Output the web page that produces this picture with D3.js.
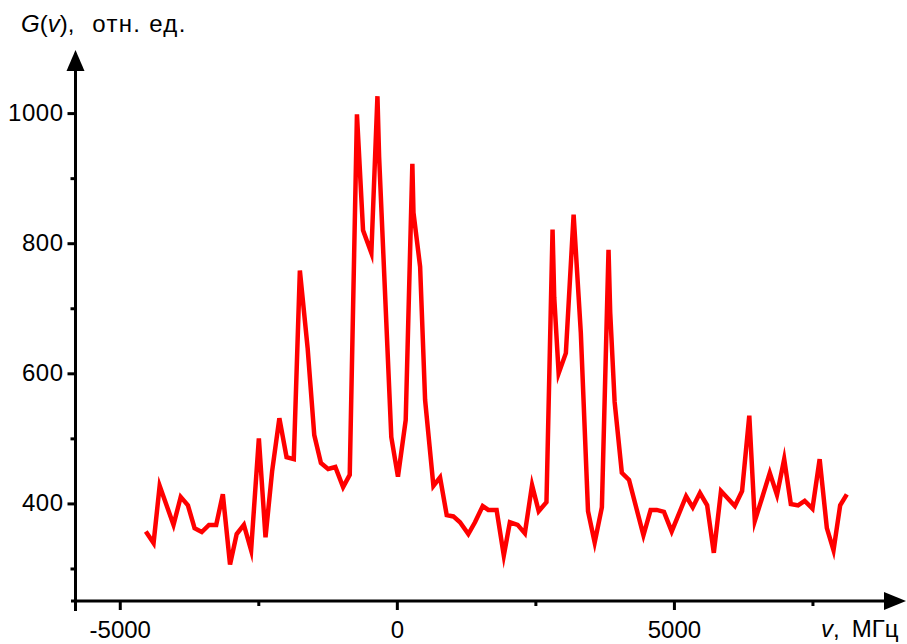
<!DOCTYPE html>
<html>
<head>
<meta charset="utf-8">
<script src="https://cdn.jsdelivr.net/npm/d3@7"></script>
<style>
  body { margin: 0; background: #fff; }
  svg { display: block; font-family: "Liberation Sans", Arial, sans-serif; }
</style>
</head>
<body>
<svg id="chart"></svg>
<script>
// frequency offset, MHz
const freq = [-4530, -4390, -4280, -4030, -3900, -3770, -3650, -3520, -3390, -3260,
  -3140, -3010, -2890, -2760, -2630, -2490, -2370, -2250, -2120, -1990,
  -1860, -1750, -1610, -1490, -1370, -1240, -1110, -970, -850, -720,
  -610, -460, -350, -320, -100, 20, 160, 280, 300, 420,
  510, 660, 780, 900, 1020, 1140, 1290, 1410, 1550, 1650,
  1800, 1930, 2040, 2180, 2310, 2440, 2560, 2700, 2810, 2840,
  2920, 3050, 3190, 3320, 3450, 3570, 3700, 3820, 3850, 3930,
  4060, 4190, 4450, 4580, 4690, 4820, 4960, 5220, 5340, 5470,
  5600, 5720, 5850, 5970, 6100, 6230, 6360, 6460, 6600, 6730,
  6860, 6990, 7110, 7240, 7360, 7500, 7630, 7760, 7880, 8000, 8120]

// G(v), arb. units
const gain = [357, 339, 427, 367, 410, 397, 362, 356, 367, 367,
  414, 306, 353, 367, 328, 500, 348, 450, 531, 471,
  468, 758, 639, 505, 462, 453, 456, 425, 444, 998,
  820, 785, 1026, 933, 502, 441, 528, 922, 847, 764,
  559, 427, 440, 382, 380, 371, 353, 371, 396, 390,
  390, 320, 371, 367, 354, 428, 388, 402, 821, 717,
  600, 631, 844, 662, 388, 340, 394, 790, 694, 556,
  447, 436, 351, 390, 390, 387, 357, 411, 394, 416,
  397, 324, 419, 408, 396, 419, 535, 373, 411, 447,
  413, 468, 399, 397, 404, 392, 468, 362, 328, 397, 414]

const yMajor = [400, 600, 800, 1000]
const yMinor = [300, 500, 700, 900]
const xMajor = [-5000, 0, 5000]
const xMinor = [-2500, 2500, 7500]

const width = 907, height = 644
const axisX = 75.5, axisY = 601
const fontSize = 24

const svg = d3.select('#chart')
    .attr('width', width)
    .attr('height', height)

const x = d3.scaleLinear().domain([-5880, 9170]).range([71, 905])
const y = d3.scaleLinear().domain([250, 1097]).range([axisY, 50])

// ticks
svg.append('g')
    .attr('transform', `translate(${axisX},0)`)
    .call(d3.axisLeft(y).tickValues(yMajor).tickSize(8).tickPadding(4).tickFormat(d => d))
    .call(g => g.select('.domain').remove())
    .call(g => g.selectAll('line').attr('stroke', '#000').attr('stroke-width', 3))
    .call(g => g.selectAll('text').attr('font-size', fontSize).attr('fill', '#000')
        .attr('letter-spacing', 0.5).attr('dy', '0.3em')
        .attr('font-family', '"Liberation Sans", Arial, sans-serif'))

svg.append('g')
    .attr('transform', `translate(${axisX},0)`)
    .call(d3.axisLeft(y).tickValues(yMinor).tickSize(5).tickFormat(''))
    .call(g => g.select('.domain').remove())
    .call(g => g.selectAll('line').attr('stroke', '#000').attr('stroke-width', 3))

svg.append('g')
    .attr('transform', `translate(0,${axisY})`)
    .call(d3.axisBottom(x).tickValues(xMajor).tickSize(9).tickPadding(12).tickFormat(d => String(d)))
    .call(g => g.select('.domain').remove())
    .call(g => g.selectAll('line').attr('stroke', '#000').attr('stroke-width', 3))
    .call(g => g.selectAll('text').attr('font-size', fontSize).attr('fill', '#000')
        .attr('dy', '0.68em')
        .attr('font-family', '"Liberation Sans", Arial, sans-serif'))

svg.append('g')
    .attr('transform', `translate(0,${axisY})`)
    .call(d3.axisBottom(x).tickValues(xMinor).tickSize(5).tickFormat(''))
    .call(g => g.select('.domain').remove())
    .call(g => g.selectAll('line').attr('stroke', '#000').attr('stroke-width', 3))

// axis lines with arrows
svg.append('line')
    .attr('x1', axisX).attr('y1', axisY + 10)
    .attr('x2', axisX).attr('y2', 66)
    .attr('stroke', '#000').attr('stroke-width', 3)
svg.append('path')
    .attr('d', `M${axisX},50 L${axisX - 9},71 L${axisX + 9},71 Z`)
    .attr('fill', '#000')

svg.append('line')
    .attr('x1', 71).attr('y1', axisY)
    .attr('x2', 888).attr('y2', axisY)
    .attr('stroke', '#000').attr('stroke-width', 3)
svg.append('path')
    .attr('d', `M906,${axisY} L884,${axisY - 9} L884,${axisY + 9} Z`)
    .attr('fill', '#000')

// the curve
const line = d3.line()
    .x((d, i) => x(freq[i]))
    .y(d => y(d))

svg.append('path')
    .datum(gain)
    .attr('d', line)
    .attr('fill', 'none')
    .attr('stroke', '#ff0000')
    .attr('stroke-width', 4.5)
    .attr('stroke-linejoin', 'miter')
    .attr('stroke-miterlimit', 6)

// axis titles
const title = svg.append('text')
    .attr('x', 21).attr('y', 32)
    .attr('font-size', fontSize)
    .style('white-space', 'pre')
title.append('tspan').attr('font-style', 'italic').text('G')
title.append('tspan').text('(')
title.append('tspan').attr('font-style', 'italic').text('v')
title.append('tspan').text('),')
title.append('tspan').attr('dx', 18).attr('letter-spacing', 1.3).text('отн. ед.')

const xLabel = svg.append('text')
    .attr('x', 821).attr('y', 637)
    .attr('font-size', fontSize)
    .style('white-space', 'pre')
xLabel.append('tspan').attr('font-style', 'italic').text('v')
xLabel.append('tspan').text(',')
xLabel.append('tspan').attr('dx', 12).text('МГц')
</script>
</body>
</html>
